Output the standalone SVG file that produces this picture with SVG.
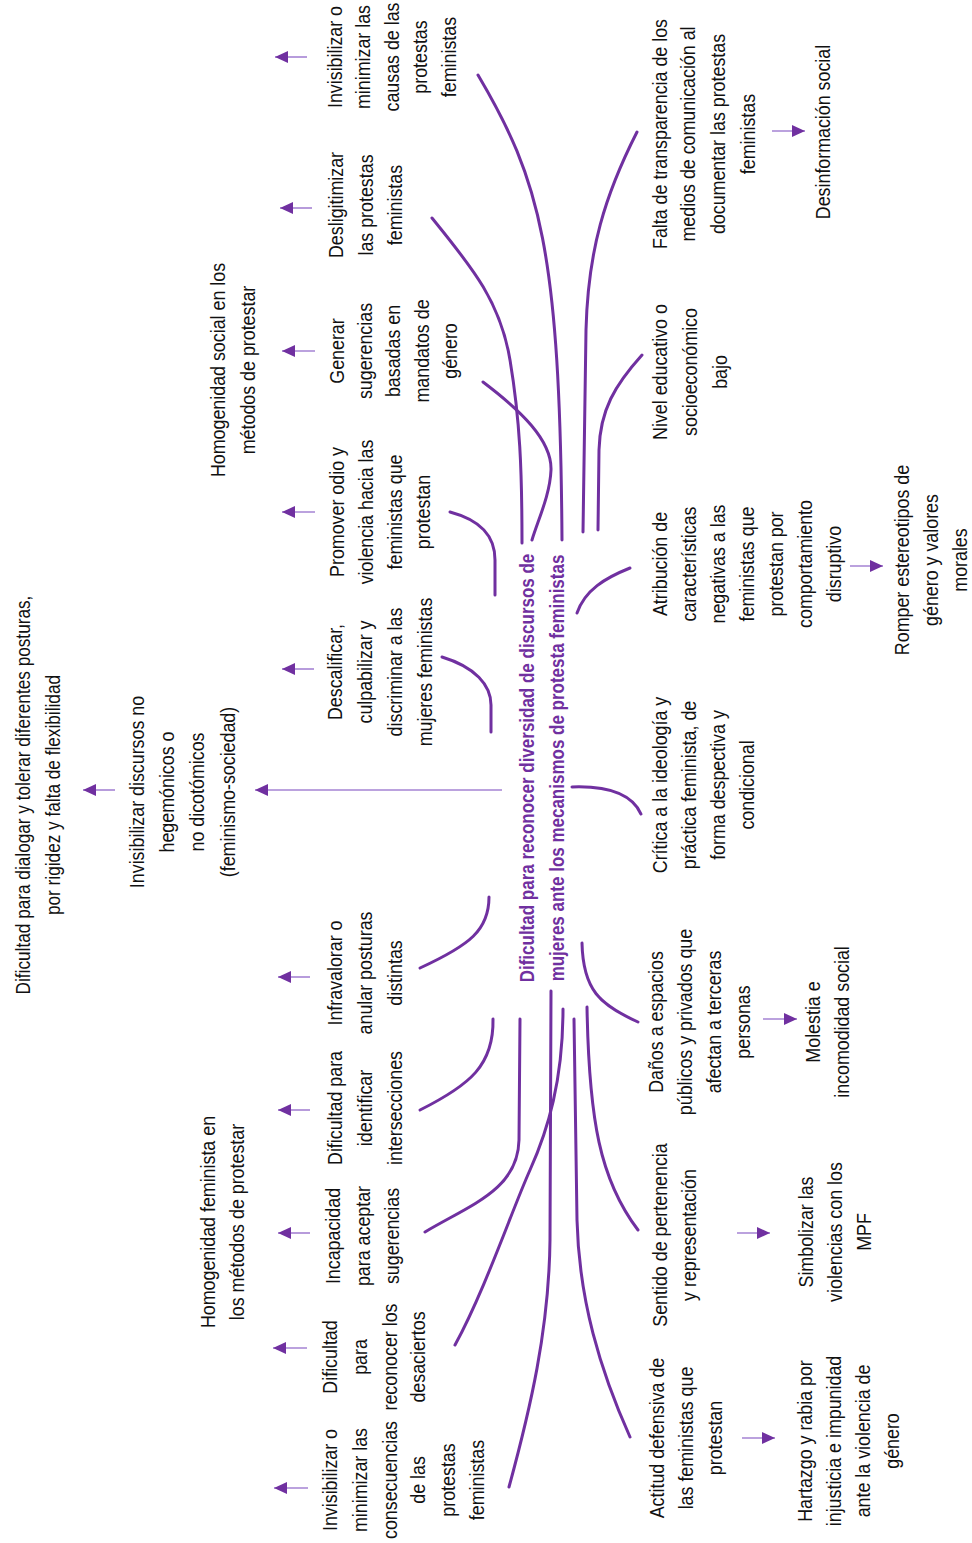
<svg xmlns="http://www.w3.org/2000/svg" width="972" height="1543" viewBox="0 0 972 1543">
<style>
  .t { font-family: "Liberation Sans", Arial, sans-serif; font-size: 21px; fill: #111; text-anchor: middle; }
  .title { font-family: "Liberation Sans", Arial, sans-serif; font-size: 20px; font-weight: bold; fill: #7030A0; text-anchor: middle; }
  .c { fill: none; stroke: #7030A0; stroke-width: 3; stroke-linecap: round; }
  .a { fill: none; stroke: #A583D3; stroke-width: 1.6; marker-end: url(#ah); }
</style>
<defs>
  <marker id="ah" markerUnits="userSpaceOnUse" markerWidth="14" markerHeight="12" refX="13" refY="6" orient="auto">
    <path d="M0,0 L13,6 L0,12 Z" fill="#7030A0"/>
  </marker>
</defs>
<rect width="972" height="1543" fill="#fff"/>

<g id="connectors">
  <path class="c" d="M478,75 C540,180 560,250 562,540"/>
  <path class="c" d="M432,218 C470,265 500,300 510,360 S522,470 522,543"/>
  <path class="c" d="M483,382 C520,410 552,440 551,470 C550,495 538,520 532,540"/>
  <path class="c" d="M637,132 C605,195 588,250 586,330 L583,532"/>
  <path class="c" d="M642,355 C615,385 600,410 599,450 L598,530"/>
  <path class="c" d="M450,512 C480,520 495,535 495,560 L495,595"/>
  <path class="c" d="M630,568 C605,578 585,590 577,613"/>
  <path class="c" d="M442,657 C475,667 491,685 491,705 L491,732"/>
  <path class="c" d="M572,787 C600,786 630,790 641,814"/>
  <path class="c" d="M489,897 C489,930 470,945 420,968"/>
  <path class="c" d="M493,1019 C494,1065 470,1085 420,1110"/>
  <path class="c" d="M520,1019 L519,1140 C518,1190 470,1205 425,1232"/>
  <path class="c" d="M551,991 L550,1240 C549,1330 530,1410 509,1487"/>
  <path class="c" d="M563,1009 C563,1080 548,1130 530,1170 S485,1290 455,1345"/>
  <path class="c" d="M574,1019 L577,1220 C579,1300 600,1370 630,1437"/>
  <path class="c" d="M587,1007 C589,1120 600,1180 638,1230"/>
  <path class="c" d="M582,943 C583,990 600,1005 638,1022"/>

  <path class="a" d="M307,57 H275"/>
  <path class="a" d="M312,208 H280"/>
  <path class="a" d="M315,351 H282"/>
  <path class="a" d="M315,512 H282"/>
  <path class="a" d="M314,669 H282"/>
  <path class="a" d="M502,790 H255"/>
  <path class="a" d="M115,790 H83"/>
  <path class="a" d="M310,977 H278"/>
  <path class="a" d="M310,1110 H278"/>
  <path class="a" d="M310,1233 H278"/>
  <path class="a" d="M307,1348 H273"/>
  <path class="a" d="M308,1488 H274"/>
  <path class="a" d="M772,131 H805"/>
  <path class="a" d="M850,566 H883"/>
  <path class="a" d="M763,1019 H797"/>
  <path class="a" d="M737,1233 H770"/>
  <path class="a" d="M742,1438 H775"/>
</g>

<g id="n-title" transform="translate(0,768) rotate(-90) scale(0.85,1)"><text class="title"><tspan x="0" y="534">Dificultad para reconocer diversidad de discursos de</tspan><tspan x="0" y="564">mujeres ante los mecanismos de protesta feministas</tspan></text></g>

<g id="n-causas" transform="translate(0,57) rotate(-90) scale(0.85,1)"><text class="t"><tspan x="0" y="342">Invisibilizar o</tspan><tspan x="0" y="370">minimizar las</tspan><tspan x="0" y="399">causas de las</tspan><tspan x="0" y="427">protestas</tspan><tspan x="0" y="456">feministas</tspan></text></g>
<g id="n-deslegit" transform="translate(0,205) rotate(-90) scale(0.85,1)"><text class="t"><tspan x="0" y="343">Desligitimizar</tspan><tspan x="0" y="373">las protestas</tspan><tspan x="0" y="402">feministas</tspan></text></g>
<g id="n-generar" transform="translate(0,351) rotate(-90) scale(0.85,1)"><text class="t"><tspan x="0" y="344">Generar</tspan><tspan x="0" y="372">sugerencias</tspan><tspan x="0" y="400">basadas en</tspan><tspan x="0" y="429">mandatos de</tspan><tspan x="0" y="457">género</tspan></text></g>
<g id="n-promover" transform="translate(0,512) rotate(-90) scale(0.85,1)"><text class="t"><tspan x="0" y="344">Promover odio y</tspan><tspan x="0" y="373">violencia hacia las</tspan><tspan x="0" y="402">feministas que</tspan><tspan x="0" y="430">protestan</tspan></text></g>
<g id="n-descalificar" transform="translate(0,672) rotate(-90) scale(0.85,1)"><text class="t"><tspan x="0" y="342">Descalificar,</tspan><tspan x="0" y="372">culpabilizar y</tspan><tspan x="0" y="402">discriminar a las</tspan><tspan x="0" y="432">mujeres feministas</tspan></text></g>
<g id="n-invis-discursos" transform="translate(0,792) rotate(-90) scale(0.85,1)"><text class="t"><tspan x="0" y="144">Invisibilizar discursos no</tspan><tspan x="0" y="174">hegemónicos o</tspan><tspan x="0" y="204">no dicotómicos</tspan><tspan x="0" y="235">(feminismo-sociedad)</tspan></text></g>
<g id="n-dialogar" transform="translate(0,795) rotate(-90) scale(0.82,1)"><text class="t"><tspan x="0" y="30">Dificultad para dialogar y tolerar diferentes posturas,</tspan><tspan x="0" y="60">por rigidez y falta de flexibilidad</tspan></text></g>
<g id="n-infravalorar" transform="translate(0,973) rotate(-90) scale(0.85,1)"><text class="t"><tspan x="0" y="342">Infravalorar o</tspan><tspan x="0" y="372">anular posturas</tspan><tspan x="0" y="402">distintas</tspan></text></g>
<g id="n-intersecciones" transform="translate(0,1108) rotate(-90) scale(0.85,1)"><text class="t"><tspan x="0" y="342">Dificultad para</tspan><tspan x="0" y="372">identificar</tspan><tspan x="0" y="402">intersecciones</tspan></text></g>
<g id="n-incapacidad" transform="translate(0,1236) rotate(-90) scale(0.85,1)"><text class="t"><tspan x="0" y="340">Incapacidad</tspan><tspan x="0" y="370">para aceptar</tspan><tspan x="0" y="399">sugerencias</tspan></text></g>
<g id="n-desaciertos" transform="translate(0,1357) rotate(-90) scale(0.85,1)"><text class="t"><tspan x="0" y="337">Dificultad</tspan><tspan x="0" y="367">para</tspan><tspan x="0" y="397">reconocer los</tspan><tspan x="0" y="425">desaciertos</tspan></text></g>
<g id="n-consecuencias" transform="translate(0,1480) rotate(-90) scale(0.85,1)"><text class="t"><tspan x="0" y="337">Invisibilizar o</tspan><tspan x="0" y="367">minimizar las</tspan><tspan x="0" y="397">consecuencias</tspan><tspan x="0" y="425">de las</tspan><tspan x="0" y="455">protestas</tspan><tspan x="0" y="484">feministas</tspan></text></g>
<g id="n-homog-feminista" transform="translate(0,1222) rotate(-90) scale(0.85,1)"><text class="t"><tspan x="0" y="215">Homogenidad feminista en</tspan><tspan x="0" y="244">los métodos de protestar</tspan></text></g>
<g id="n-homog-social" transform="translate(0,370) rotate(-90) scale(0.85,1)"><text class="t"><tspan x="0" y="225">Homogenidad social en los</tspan><tspan x="0" y="255">métodos de protestar</tspan></text></g>

<g id="n-falta" transform="translate(0,134) rotate(-90) scale(0.85,1)"><text class="t"><tspan x="0" y="667">Falta de transparencia de los</tspan><tspan x="0" y="695">medios de comunicación al</tspan><tspan x="0" y="725">documentar las protestas</tspan><tspan x="0" y="755">feministas</tspan></text></g>
<g id="n-desinformacion" transform="translate(0,132) rotate(-90) scale(0.85,1)"><text class="t"><tspan x="0" y="830">Desinformación social</tspan></text></g>
<g id="n-nivel" transform="translate(0,372) rotate(-90) scale(0.85,1)"><text class="t"><tspan x="0" y="667">Nivel educativo o</tspan><tspan x="0" y="697">socioeconómico</tspan><tspan x="0" y="727">bajo</tspan></text></g>
<g id="n-atribucion" transform="translate(0,564) rotate(-90) scale(0.85,1)"><text class="t"><tspan x="0" y="667">Atribución de</tspan><tspan x="0" y="696">características</tspan><tspan x="0" y="725">negativas a las</tspan><tspan x="0" y="754">feministas que</tspan><tspan x="0" y="783">protestan por</tspan><tspan x="0" y="812">comportamiento</tspan><tspan x="0" y="841">disruptivo</tspan></text></g>
<g id="n-romper" transform="translate(0,560) rotate(-90) scale(0.85,1)"><text class="t"><tspan x="0" y="909">Romper estereotipos de</tspan><tspan x="0" y="938">género y valores</tspan><tspan x="0" y="967">morales</tspan></text></g>
<g id="n-critica" transform="translate(0,785) rotate(-90) scale(0.85,1)"><text class="t"><tspan x="0" y="667">Crítica a la ideología y</tspan><tspan x="0" y="696">práctica feminista, de</tspan><tspan x="0" y="725">forma despectiva y</tspan><tspan x="0" y="754">condicional</tspan></text></g>
<g id="n-danos" transform="translate(0,1022) rotate(-90) scale(0.85,1)"><text class="t"><tspan x="0" y="663">Daños a espacios</tspan><tspan x="0" y="692">públicos y privados que</tspan><tspan x="0" y="721">afectan a terceras</tspan><tspan x="0" y="750">personas</tspan></text></g>
<g id="n-molestia" transform="translate(0,1022) rotate(-90) scale(0.85,1)"><text class="t"><tspan x="0" y="820">Molestia e</tspan><tspan x="0" y="849">incomodidad social</tspan></text></g>
<g id="n-sentido" transform="translate(0,1235) rotate(-90) scale(0.85,1)"><text class="t"><tspan x="0" y="667">Sentido de pertenencia</tspan><tspan x="0" y="696">y representación</tspan></text></g>
<g id="n-simbolizar" transform="translate(0,1232) rotate(-90) scale(0.85,1)"><text class="t"><tspan x="0" y="813">Simbolizar las</tspan><tspan x="0" y="842">violencias con los</tspan><tspan x="0" y="871">MPF</tspan></text></g>
<g id="n-actitud" transform="translate(0,1438) rotate(-90) scale(0.85,1)"><text class="t"><tspan x="0" y="664">Actitud defensiva de</tspan><tspan x="0" y="693">las feministas que</tspan><tspan x="0" y="722">protestan</tspan></text></g>
<g id="n-hartazgo" transform="translate(0,1441) rotate(-90) scale(0.85,1)"><text class="t"><tspan x="0" y="812">Hartazgo y rabia por</tspan><tspan x="0" y="841">injusticia e impunidad</tspan><tspan x="0" y="870">ante la violencia de</tspan><tspan x="0" y="899">género</tspan></text></g>
</svg>
